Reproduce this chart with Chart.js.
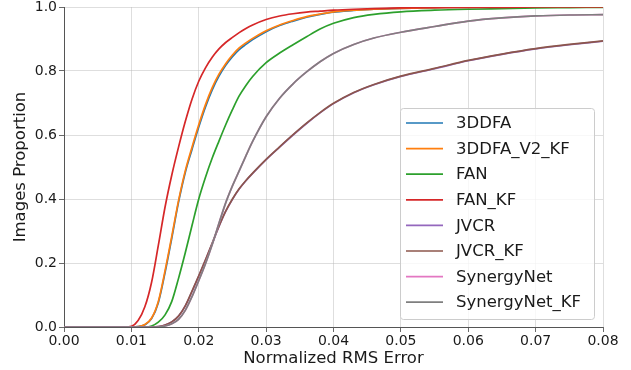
<!DOCTYPE html>
<html>
<head>
<meta charset="utf-8">
<script src="https://cdn.jsdelivr.net/npm/chart.js@4"></script>
<style>
  html, body { margin: 0; padding: 0; background: #fff; }
  #cedChart { display: block; }
</style>
</head>
<body>
<canvas id="cedChart" width="631" height="370"></canvas>
<script>
// error thresholds (x) and the proportion of images below each threshold
const errThresholds = [0, 0.009, 0.010, 0.011, 0.012, 0.013, 0.014, 0.015, 0.016, 0.017, 0.018, 0.019,
    0.020, 0.021, 0.022, 0.023, 0.024, 0.025, 0.026, 0.027, 0.028, 0.030, 0.032, 0.034, 0.036, 0.038,
    0.040, 0.043, 0.046, 0.050, 0.055, 0.060, 0.065, 0.070, 0.075, 0.080];

const methodNames = ['3DDFA', '3DDFA_V2_KF', 'FAN', 'FAN_KF', 'JVCR', 'JVCR_KF', 'SynergyNet', 'SynergyNet_KF'];

const ddfa = [0, 0, 0, 0.001, 0.007, 0.026, 0.076, 0.170, 0.278, 0.390, 0.483, 0.555, 0.625, 0.688, 0.741, 0.784,
    0.818, 0.845, 0.867, 0.883, 0.898, 0.923, 0.942, 0.956, 0.968, 0.977, 0.984, 0.989, 0.993, 0.996, 0.998, 0.999, 1, 1, 1, 1];
const ddfaV2Kf = [0, 0, 0, 0.001, 0.008, 0.028, 0.080, 0.176, 0.284, 0.395, 0.488, 0.562, 0.632, 0.695, 0.748, 0.790,
    0.823, 0.850, 0.872, 0.888, 0.902, 0.926, 0.944, 0.958, 0.970, 0.978, 0.985, 0.990, 0.993, 0.996, 0.998, 0.999, 1, 1, 1, 1];
const fan = [0, 0, 0, 0, 0, 0.003, 0.015, 0.038, 0.080, 0.152, 0.232, 0.317, 0.400, 0.468, 0.528, 0.581,
    0.632, 0.679, 0.722, 0.755, 0.783, 0.826, 0.856, 0.882, 0.907, 0.931, 0.949, 0.967, 0.977, 0.985, 0.990, 0.993, 0.995, 0.997, 0.998, 0.999];
const fanKf = [0, 0, 0.002, 0.020, 0.063, 0.140, 0.255, 0.375, 0.475, 0.562, 0.642, 0.712, 0.768, 0.810, 0.843, 0.869,
    0.889, 0.905, 0.920, 0.933, 0.944, 0.961, 0.972, 0.979, 0.984, 0.987, 0.990, 0.993, 0.995, 0.997, 0.998, 0.999, 0.999, 1, 1, 1];
const jvcr = [0, 0, 0, 0, 0, 0, 0.001, 0.006, 0.016, 0.034, 0.066, 0.111, 0.159, 0.209, 0.261, 0.314,
    0.361, 0.399, 0.431, 0.457, 0.480, 0.523, 0.562, 0.600, 0.636, 0.669, 0.698, 0.732, 0.757, 0.783, 0.807, 0.832, 0.852, 0.869, 0.882, 0.893];
const jvcrKf = [0, 0, 0, 0, 0, 0, 0.001, 0.006, 0.016, 0.034, 0.066, 0.112, 0.160, 0.210, 0.262, 0.315,
    0.362, 0.400, 0.432, 0.458, 0.481, 0.524, 0.563, 0.601, 0.637, 0.670, 0.699, 0.733, 0.758, 0.784, 0.808, 0.833, 0.853, 0.870, 0.883, 0.894];
const synergy = [0, 0, 0, 0, 0, 0, 0, 0.003, 0.010, 0.024, 0.052, 0.095, 0.145, 0.198, 0.258, 0.324,
    0.388, 0.441, 0.488, 0.535, 0.580, 0.657, 0.715, 0.760, 0.797, 0.829, 0.855, 0.883, 0.903, 0.921, 0.939, 0.956, 0.966, 0.972, 0.975, 0.976];
const synergyKf = [0, 0, 0, 0, 0, 0, 0, 0.003, 0.010, 0.024, 0.052, 0.095, 0.145, 0.198, 0.258, 0.324,
    0.388, 0.441, 0.488, 0.535, 0.580, 0.657, 0.715, 0.760, 0.797, 0.829, 0.855, 0.883, 0.903, 0.921, 0.939, 0.956, 0.966, 0.972, 0.975, 0.976];

const seriesValues = [ddfa, ddfaV2Kf, fan, fanKf, jvcr, jvcrKf, synergy, synergyKf];
const colors = ['#1f77b4', '#ff7f0e', '#2ca02c', '#d62728', '#9467bd', '#8c564b', '#e377c2', '#7f7f7f'];

const xTicks = [0, 0.01, 0.02, 0.03, 0.04, 0.05, 0.06, 0.07, 0.08];
const yTicks = [0, 0.2, 0.4, 0.6, 0.8, 1.0];

const FONT = 'DejaVu Sans';

const datasets = methodNames.map((name, i) => ({
    label: name,
    data: errThresholds.map((x, j) => ({ x: x, y: seriesValues[i][j] })),
    borderColor: colors[i],
    backgroundColor: colors[i],
    borderWidth: 1.7,
    pointRadius: 0,
    fill: false,
    cubicInterpolationMode: 'monotone',
    order: methodNames.length - i   // later series drawn on top, like matplotlib
}));

// legend box sitting inside the plot, bottom right
const insetLegend = {
    id: 'insetLegend',
    afterDraw(chart) {
        const ctx = chart.ctx;
        const area = chart.chartArea;
        const boxW = 194, boxH = 211;
        const boxX = area.right - 9 - boxW;
        const boxY = area.bottom - 8 - boxH;
        ctx.save();
        ctx.beginPath();
        ctx.roundRect(boxX + 0.5, boxY + 0.5, boxW, boxH, 3);
        ctx.fillStyle = 'rgba(255,255,255,0.8)';
        ctx.fill();
        ctx.strokeStyle = '#cccccc';
        ctx.lineWidth = 1;
        ctx.stroke();

        ctx.font = '16.5px "' + FONT + '"';
        ctx.textBaseline = 'middle';
        ctx.textAlign = 'left';
        chart.data.datasets.forEach((ds, i) => {
            const y = boxY + 15 + i * 25.6;
            ctx.beginPath();
            ctx.moveTo(boxX + 6, y);
            ctx.lineTo(boxX + 43, y);
            ctx.strokeStyle = ds.borderColor;
            ctx.lineWidth = 1.7;
            ctx.stroke();
            ctx.fillStyle = '#1a1a1a';
            ctx.fillText(ds.label, boxX + 56, y + 1);
        });
        ctx.restore();
    }
};

const gridOpts = {
    color: 'rgba(180,180,180,0.55)',
    borderDash: [2, 1.5],
    tickColor: '#444',
    tickBorderDash: [],
    tickLength: 5,
    lineWidth: 0.8
};

new Chart(document.getElementById('cedChart'), {
    type: 'line',
    data: { datasets: datasets },
    plugins: [insetLegend],
    options: {
        responsive: false,
        animation: false,
        devicePixelRatio: 1,
        layout: { padding: { top: 7, right: 28, left: 0, bottom: 0 } },
        plugins: {
            legend: { display: false },
            tooltip: { enabled: false }
        },
        scales: {
            x: {
                type: 'linear',
                min: 0,
                max: 0.08,
                afterBuildTicks: (axis) => { axis.ticks = xTicks.map(v => ({ value: v })); },
                afterFit: (axis) => {
                    axis.height = 43;
                    axis.paddingLeft = 0;
                    axis.paddingRight = 0;
                },
                ticks: {
                    callback: (v) => v.toFixed(2),
                    color: '#1a1a1a',
                    font: { family: FONT, size: 14 },
                    padding: 1,
                    maxRotation: 0
                },
                grid: gridOpts,
                border: { color: '#555', width: 1 },
                title: {
                    display: true,
                    text: 'Normalized RMS Error',
                    color: '#1a1a1a',
                    font: { family: FONT, size: 16.5 },
                    padding: { top: 0, bottom: 1 }
                }
            },
            y: {
                type: 'linear',
                min: 0,
                max: 1,
                afterBuildTicks: (axis) => { axis.ticks = yTicks.map(v => ({ value: v })); },
                afterFit: (axis) => {
                    axis.width = 64;
                    axis.paddingTop = 0;
                    axis.paddingBottom = 0;
                },
                ticks: {
                    callback: (v) => v.toFixed(1),
                    color: '#1a1a1a',
                    font: { family: FONT, size: 14 },
                    padding: 2
                },
                grid: gridOpts,
                border: { color: '#555', width: 1 },
                title: {
                    display: true,
                    text: 'Images Proportion',
                    color: '#1a1a1a',
                    font: { family: FONT, size: 16.5 },
                    padding: { top: 11, bottom: 0 }
                }
            }
        }
    },
});
</script>
</body>
</html>
